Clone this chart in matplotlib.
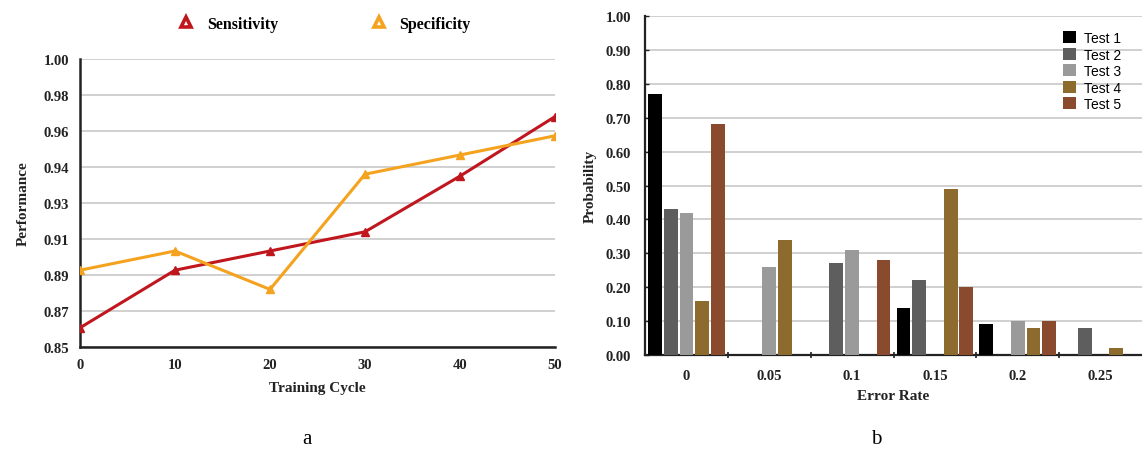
import matplotlib
matplotlib.use("Agg")
import matplotlib.pyplot as plt
from matplotlib.lines import Line2D
import numpy as np

# ---- data: panel a ----
cycles = [0, 10, 20, 30, 40, 50]
sensitivity = [0.860, 0.890, 0.900, 0.910, 0.939, 0.970]
specificity = [0.890, 0.900, 0.880, 0.940, 0.950, 0.960]
perf_ticks = [0.85, 0.86875, 0.8875, 0.90625, 0.925, 0.94375, 0.9625, 0.98125, 1.00]
perf_labels = ["0.85", "0.87", "0.89", "0.91", "0.93", "0.94", "0.96", "0.98", "1.00"]

# ---- data: panel b ----
error_rates = ["0", "0.05", "0.1", "0.15", "0.2", "0.25"]
test_names = ["Test 1", "Test 2", "Test 3", "Test 4", "Test 5"]
test1 = [0.77, 0.00, 0.00, 0.14, 0.09, 0.00]
test2 = [0.43, 0.00, 0.27, 0.22, 0.00, 0.08]
test3 = [0.42, 0.26, 0.31, 0.00, 0.10, 0.00]
test4 = [0.16, 0.34, 0.00, 0.49, 0.08, 0.02]
test5 = [0.68, 0.00, 0.28, 0.20, 0.10, 0.00]
prob_ticks = [0.0, 0.1, 0.2, 0.3, 0.4, 0.5, 0.6, 0.7, 0.8, 0.9, 1.0]

W, H = 1142, 456
fig = plt.figure(figsize=(W / 100, H / 100), dpi=100)
serif = "Liberation Serif"
sans = "Liberation Sans"

def px(l, t, r, b):
    return [l / W, (H - b) / H, (r - l) / W, (b - t) / H]

# ---------------- panel a ----------------
ax1 = fig.add_axes(px(80, 60, 555, 348))
red = "#c0161e"
orange = "#f5a21f"
ax1.plot(cycles, sensitivity, color=red, lw=2.2, marker="^", ms=6, zorder=3)
ax1.plot(cycles, specificity, color=orange, lw=2.2, marker="^", ms=6, zorder=3)
ax1.set_xlim(0, 50)
ax1.set_ylim(0.85, 1.00)
ax1.set_yticks(perf_ticks)
ax1.set_yticklabels(perf_labels)
ax1.set_xticks(cycles)
ax1.grid(axis="y", color="#c8c8c8", lw=1.2)
ax1.set_axisbelow(True)
for s in ["top", "right"]:
    ax1.spines[s].set_visible(False)
for s in ["left", "bottom"]:
    ax1.spines[s].set_color("#222222")
    ax1.spines[s].set_linewidth(1.8)
ax1.tick_params(length=0, pad=8)
for lab in ax1.get_xticklabels() + ax1.get_yticklabels():
    lab.set_fontfamily(serif)
    lab.set_fontweight("bold")
    lab.set_fontsize(10.5)
    lab.set_color("#222222")
ax1.set_xlabel("Training Cycle", fontfamily=serif, fontweight="bold", fontsize=11, color="#222222", labelpad=7)
ax1.set_ylabel("Performance", fontfamily=serif, fontweight="bold", fontsize=11, color="#222222", labelpad=10)
handles = [Line2D([], [], linestyle="none", marker="^", ms=7, mfc="white", mec=red, mew=2.6),
           Line2D([], [], linestyle="none", marker="^", ms=7, mfc="white", mec=orange, mew=2.6)]
ax1.legend(handles, ["Sensitivity", "Specificity"], loc="center",
           bbox_to_anchor=((328.5 - 80) / 475, (348 - 25) / 288), ncol=2, frameon=False,
           handlelength=0, handletextpad=1.3, columnspacing=6.3,
           prop={"family": serif, "weight": "bold", "size": 11.5})

# ---------------- panel b ----------------
ax2 = fig.add_axes(px(645, 17, 1142, 356))
bar_colors = ["#000000", "#5e5e5e", "#9a9a9a", "#8d6b2e", "#8a4a2e"]
x = np.arange(len(error_rates))
pitch = 0.19
width = 0.167
for i, (vals, name, c) in enumerate(zip([test1, test2, test3, test4, test5], test_names, bar_colors)):
    ax2.bar(x + (i - 2) * pitch, vals, width=width, color=c, label=name, zorder=3)
ax2.set_xlim(-0.5, 5.5)
ax2.set_ylim(0, 1.0)
ax2.set_yticks(prob_ticks)
ax2.set_yticklabels([f"{v:.2f}" for v in prob_ticks])
ax2.set_xticks(x)
ax2.set_xticklabels(error_rates)
ax2.set_xticks(np.arange(0.5, 5.5, 1.0), minor=True)
ax2.grid(axis="y", color="#c8c8c8", lw=1.2)
ax2.set_axisbelow(True)
for s in ["top", "right"]:
    ax2.spines[s].set_visible(False)
for s in ["left", "bottom"]:
    ax2.spines[s].set_color("#222222")
    ax2.spines[s].set_linewidth(1.6)
ax2.tick_params(axis="x", which="major", length=0, pad=10)
ax2.tick_params(axis="x", which="minor", length=4, direction="inout", width=1.2, color="#222222")
ax2.tick_params(axis="y", length=3, direction="in", width=1, color="#222222", pad=10)
for lab in ax2.get_xticklabels() + ax2.get_yticklabels():
    lab.set_fontfamily(serif)
    lab.set_fontweight("bold")
    lab.set_fontsize(10.5)
    lab.set_color("#222222")
ax2.set_xlabel("Error Rate", fontfamily=serif, fontweight="bold", fontsize=11, color="#222222", labelpad=5)
ax2.set_ylabel("Probability", fontfamily=serif, fontweight="bold", fontsize=11, color="#222222", labelpad=6)
ax2.legend(loc="upper left", bbox_to_anchor=(0.83, 0.972), frameon=False,
           handlelength=0.9, handleheight=0.9, handletextpad=0.6, labelspacing=0.18,
           prop={"family": sans, "size": 10}, borderaxespad=0)

# panel letters
fig.text(307 / W, 1 - 440 / H, "a", fontfamily=serif, fontsize=15, ha="center", va="center")
fig.text(876 / W, 1 - 440 / H, "b", fontfamily=serif, fontsize=15, ha="center", va="center")

fig.savefig("out.png", dpi=100)
